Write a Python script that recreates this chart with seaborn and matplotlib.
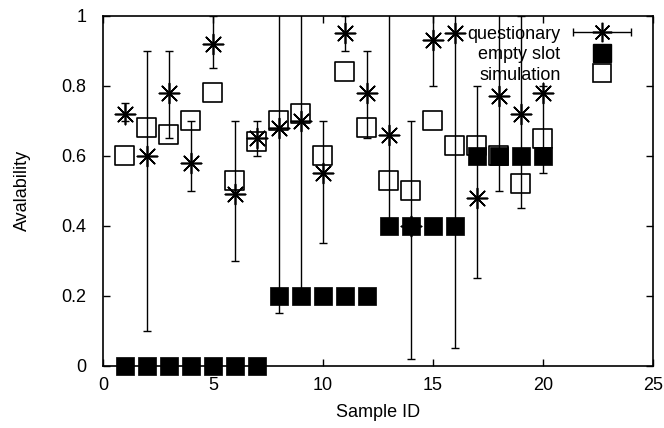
import numpy as np
import pandas as pd
import matplotlib
matplotlib.use("Agg")
import matplotlib.pyplot as plt
import seaborn as sns
from matplotlib.container import ErrorbarContainer
from matplotlib.collections import LineCollection
from matplotlib.lines import Line2D
from matplotlib.legend_handler import HandlerErrorbar

# ---- data ----
sample_ids = list(range(1, 21))
questionary = [0.72, 0.60, 0.78, 0.58, 0.92, 0.49, 0.65, 0.68, 0.70, 0.55,
               0.95, 0.78, 0.66, 0.40, 0.93, 0.95, 0.48, 0.77, 0.72, 0.78]
quest_err_low = [0.02, 0.50, 0.13, 0.08, 0.07, 0.19, 0.05, 0.53, 0.50, 0.20,
                 0.05, 0.13, 0.27, 0.38, 0.13, 0.90, 0.23, 0.27, 0.27, 0.23]
quest_err_high = [0.03, 0.30, 0.12, 0.12, 0.08, 0.21, 0.05, 0.53, 0.50, 0.15,
                  0.05, 0.12, 0.40, 0.30, 0.13, 0.90, 0.32, 0.27, 0.28, 0.02]
empty_slot = [0, 0, 0, 0, 0, 0, 0, 0.2, 0.2, 0.2, 0.2, 0.2,
              0.4, 0.4, 0.4, 0.4, 0.6, 0.6, 0.6, 0.6]
simulation = [0.60, 0.68, 0.66, 0.70, 0.78, 0.53, 0.64, 0.70, 0.72, 0.60,
              0.84, 0.68, 0.53, 0.50, 0.70, 0.63, 0.63, 0.60, 0.52, 0.65]
x_ticks = [0, 5, 10, 15, 20, 25]
y_ticks = [0, 0.2, 0.4, 0.6, 0.8, 1]
y_tick_labels = ["0", "0.2", "0.4", "0.6", "0.8", "1"]

df = pd.DataFrame({"id": sample_ids, "questionary": questionary,
                   "empty": empty_slot, "simulation": simulation})

sns.set_style("ticks")
plt.rcParams["font.family"] = ["Liberation Sans", "DejaVu Sans"]
plt.rcParams["text.color"] = "black"
plt.rcParams["axes.labelcolor"] = "black"
FS = 13

fig = plt.figure(figsize=(6.64, 4.28), dpi=100)
ax = fig.add_axes([0.155, 0.145, 0.828, 0.818])

star = (8, 2, 0)
# questionary with error bars
eb = ax.errorbar(df["id"], df["questionary"],
                 yerr=[quest_err_low, quest_err_high],
                 fmt="none", ecolor="black", elinewidth=1.0,
                 capsize=3, capthick=1.0, zorder=2)
sns.scatterplot(data=df, x="id", y="questionary", marker=star, s=210,
                color="black", linewidth=1.2, ax=ax, zorder=3, legend=False)
# empty slot: filled squares
sns.scatterplot(data=df, x="id", y="empty", marker="s", s=185,
                color="black", edgecolor="black", linewidth=0.5, ax=ax,
                zorder=4, legend=False, clip_on=False)
# simulation: open squares
sns.scatterplot(data=df, x="id", y="simulation", marker="s", s=185,
                facecolor="none", edgecolor="black", linewidth=1.2, ax=ax,
                zorder=5, legend=False, clip_on=False)

ax.set_xlim(0, 25)
ax.set_ylim(0, 1)
ax.set_xticks(x_ticks)
ax.set_xticklabels([str(t) for t in x_ticks])
ax.set_yticks(y_ticks)
ax.set_yticklabels(y_tick_labels)
ax.tick_params(direction="in", length=5, width=1, top=True, right=True,
               labelsize=FS, colors="black")
ax.tick_params(axis="x", pad=8)
ax.tick_params(axis="y", pad=12)
for sp in ax.spines.values():
    sp.set_visible(True)
    sp.set_linewidth(1.2)
    sp.set_color("black")
ax.set_xlabel("Sample ID", fontsize=FS, labelpad=7, color="black")
ax.set_ylabel("Avalability", fontsize=FS, labelpad=22, color="black")

# legend (gnuplot style: text, then sample)
st_h = Line2D([], [], color="black", marker=star, markersize=14,
              markeredgewidth=1.2, linestyle="none")
cap_h = Line2D([], [], color="black", marker="|", markersize=6,
               markeredgewidth=1.0, linestyle="none")
bar_h = LineCollection([], colors="black", linewidths=1.0)
q_handle = ErrorbarContainer((st_h, (cap_h, cap_h), (bar_h,)),
                             has_xerr=True, has_yerr=False)
e_handle = Line2D([], [], color="black", marker="s", markersize=13.5,
                  linestyle="none")
s_handle = Line2D([], [], color="black", marker="s", markersize=13.5,
                  markerfacecolor="none", markeredgewidth=1.2,
                  linestyle="none")
leg = ax.legend([q_handle, e_handle, s_handle],
                ["questionary", "empty slot", "simulation"],
                handler_map={ErrorbarContainer: HandlerErrorbar(xerr_size=1.6)},
                loc="upper right", bbox_to_anchor=(0.977, 0.993),
                markerfirst=False, frameon=False, fontsize=FS,
                handlelength=3.4, handletextpad=0.6, labelspacing=0.2,
                borderaxespad=0)

fig.savefig("out.png", dpi=100, facecolor="white")
